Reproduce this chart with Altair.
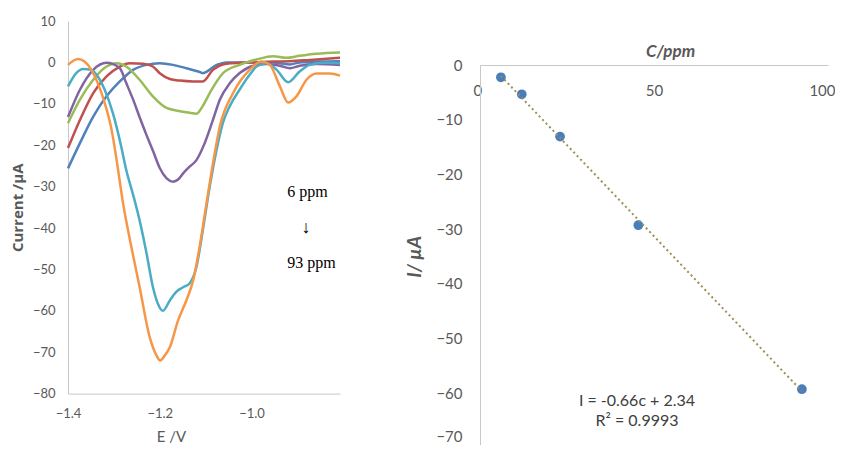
import altair as alt
import pandas as pd

# ---------------- Left panel: voltammograms (E / V vs current / µA) ----------------
E_blue = [-1.400, -1.374, -1.345, -1.316, -1.287, -1.258, -1.229, -1.200, -1.171, -1.142, -1.116,
          -1.106, -1.076, -1.055, -1.025, -0.996, -0.967, -0.938, -0.916, -0.895, -0.858, -0.807]
I_blue = [-25.6, -19.5, -13.1, -8.2, -4.6, -1.8, -0.6, -0.2, -0.6, -1.4, -2.2,
          -2.6, -0.6, 0.0, 0.0, 0.0, 0.1, -0.2, -0.5, 0.0, 0.2, 0.3]

E_red = [-1.400, -1.374, -1.345, -1.316, -1.287, -1.265, -1.236, -1.215, -1.200, -1.178, -1.156,
         -1.127, -1.106, -1.084, -1.055, -1.025, -0.989, -0.953, -0.916, -0.873, -0.807]
I_red = [-20.7, -13.9, -7.4, -3.4, -1.0, -0.2, -0.3, -1.0, -2.6, -4.0, -4.4,
         -4.6, -4.6, -1.8, -0.3, -0.1, 0.0, 0.2, 0.3, 0.6, 1.1]

E_green = [-1.400, -1.374, -1.345, -1.316, -1.294, -1.273, -1.244, -1.215, -1.185, -1.149, -1.120,
           -1.106, -1.091, -1.062, -1.026, -0.989, -0.953, -0.924, -0.895, -0.858, -0.807]
I_green = [-14.7, -9.0, -4.2, -1.0, -0.2, -1.0, -4.2, -8.2, -11.0, -11.9, -12.4,
           -10.5, -7.4, -2.6, -0.6, 0.7, 1.5, 1.1, 1.6, 2.1, 2.4]

E_purple = [-1.400, -1.374, -1.345, -1.316, -1.287, -1.273, -1.258, -1.244, -1.229, -1.215, -1.200,
            -1.185, -1.171, -1.160, -1.149, -1.135, -1.120, -1.102, -1.084, -1.069, -1.047, -1.025,
            -0.996, -0.967, -0.938, -0.916, -0.895, -0.858, -0.807]
I_purple = [-13.2, -6.6, -1.8, -0.1, -1.4, -5.0, -9.0, -13.2, -17.5, -21.3, -25.5,
            -28.0, -28.8, -28.3, -26.8, -25.2, -23.6, -19.5, -13.9, -9.0, -5.0, -2.5,
            -0.8, -0.4, -0.8, -1.4, -0.8, -0.4, -0.6]

E_cyan = [-1.400, -1.382, -1.367, -1.349, -1.335, -1.320, -1.302, -1.284, -1.273, -1.258, -1.244,
          -1.229, -1.215, -1.204, -1.193, -1.178, -1.164, -1.149, -1.135, -1.120, -1.106, -1.091,
          -1.073, -1.062, -1.047, -1.026, -1.004, -0.989, -0.967, -0.945, -0.920, -0.895, -0.873,
          -0.840, -0.807]
I_cyan = [-5.8, -2.6, -1.6, -1.8, -3.4, -6.6, -12.3, -20.3, -26.0, -32.0, -38.1,
          -46.0, -54.2, -58.3, -60.0, -57.5, -55.4, -54.3, -53.4, -49.4, -40.5, -30.0,
          -19.5, -14.5, -10.5, -6.6, -3.0, -1.0, -0.2, -1.8, -4.8, -2.2, -0.6,
          -0.1, -0.2]

E_orange = [-1.400, -1.378, -1.364, -1.349, -1.335, -1.320, -1.305, -1.294, -1.280, -1.262, -1.244,
            -1.222, -1.207, -1.199, -1.189, -1.178, -1.160, -1.142, -1.127, -1.113, -1.098, -1.084,
            -1.069, -1.040, -1.004, -0.978, -0.960, -0.938, -0.920, -0.902, -0.880, -0.858, -0.829,
            -0.807]
I_orange = [-0.6, 0.8, 0.2, -1.8, -5.0, -9.8, -16.3, -23.6, -34.0, -44.5, -54.2,
            -66.3, -70.8, -72.0, -70.8, -68.8, -62.3, -57.5, -52.6, -44.5, -34.0, -24.4,
            -15.5, -7.4, -1.8, 0.2, -0.6, -5.8, -9.7, -8.2, -4.2, -2.7, -2.7,
            -3.2]

series_names = ["s1", "s2", "s3", "s4", "s5", "s6"]
series_colors = ["#4F81BD", "#C0504D", "#9BBB59", "#8064A2", "#4BACC6", "#F79646"]
series_E = [E_blue, E_red, E_green, E_purple, E_cyan, E_orange]
series_I = [I_blue, I_red, I_green, I_purple, I_cyan, I_orange]

E_ticks = [-1.4, -1.2, -1.0]
I_ticks_left = [-80, -70, -60, -50, -40, -30, -20, -10, 0, 10]

# ---------------- Right panel: calibration ----------------
conc_ppm = [6, 12, 23, 45.5, 92.5]
peak_uA = [-2.25, -5.36, -13.1, -29.3, -59.3]
c_ticks = [0, 50, 100]
I_ticks_right = [0, -10, -20, -30, -40, -50, -60, -70]

FONT = "Lato"
GRAY = "#595959"
AXIS_LINE = "#C8C8C8"

# one shared plot area (page x 68..828, y 21..), two panels placed via scale ranges
W, H = 760, 424
L_W, L_H = 272, 372.6          # left panel plot size
R_X0, R_X1 = 412, 760          # right panel x range inside the plot area
R_Y0, R_Y70 = 44, 426.7        # right panel: y of 0 and of -70

rows = []
for name, Es, Is in zip(series_names, series_E, series_I):
    for e, i in zip(Es, Is):
        rows.append({"series": name, "E": e, "I": i})
cv = pd.DataFrame(rows)

lines = alt.Chart(cv).mark_line(strokeWidth=2.5, interpolate="monotone").encode(
    x=alt.X("E:Q",
            scale=alt.Scale(domain=[-1.4, -0.807], range=[0, L_W], nice=False, zero=False),
            axis=alt.Axis(orient="bottom", offset=-(H - L_H), values=E_ticks, format=".1f",
                          title="E /V", grid=False, ticks=False, tickSize=0, labelPadding=14,
                          labelFlush=False, domainColor=AXIS_LINE, labelColor=GRAY,
                          labelFontSize=13, labelFont=FONT, titleFont=FONT, titleFontSize=15,
                          titleColor=GRAY, titleFontWeight="normal", titleX=103, titleY=43,
                          titleBaseline="middle")),
    y=alt.Y("I:Q",
            scale=alt.Scale(domain=[-80, 10], range=[L_H, 0], nice=False),
            axis=alt.Axis(orient="left", values=I_ticks_left, title="Current /µA", grid=False,
                          ticks=False, tickSize=0, labelPadding=13,
                          domainColor=AXIS_LINE, labelColor=GRAY, labelFontSize=13,
                          labelFont=FONT, titleFont="Open Sans", titleFontSize=15,
                          titleColor=GRAY, titleFontWeight="bold", titlePadding=7)),
    color=alt.Color("series:N", scale=alt.Scale(domain=series_names, range=series_colors),
                    legend=None),
)

ann_one = pd.DataFrame({"t": ["6 ppm"]})
ann_two = pd.DataFrame({"t": ["↓"]})
ann_three = pd.DataFrame({"t": ["93 ppm"]})


def ann(df, px, py, size=16):
    return alt.Chart(df).mark_text(font="Liberation Serif", fontSize=size, color="#000000",
                                   align="center", baseline="middle").encode(
        x=alt.value(px), y=alt.value(py), text="t:N")


left = alt.layer(
    lines,
    ann(ann_one, 239.5, 171),
    ann(ann_two, 238, 207, 18),
    ann(ann_three, 243.5, 242),
)

cal = pd.DataFrame({"c": conc_ppm, "I": peak_uA})

xr = alt.X("c:Q",
           scale=alt.Scale(domain=[0, 100], range=[R_X0, R_X1], nice=False),
           axis=alt.Axis(orient="top", offset=-R_Y0, values=c_ticks, title="C/ppm",
                         grid=False, ticks=False, tickSize=0, labelPadding=-25,
                         labelBaseline="middle", labelFlush=True, labelFlushOffset=7,
                         domainColor=AXIS_LINE, labelColor=GRAY, labelFontSize=15,
                         labelFont=FONT, titleFont=FONT, titleFontSize=17, titleColor=GRAY,
                         titleFontWeight="bold", titleFontStyle="italic",
                         titleX=602, titleY=-14, titleBaseline="middle"))
yr = alt.Y("I:Q",
           scale=alt.Scale(domain=[-70, 0], range=[R_Y70, R_Y0], nice=False, zero=False),
           axis=alt.Axis(orient="left", offset=-R_X0, values=I_ticks_right, title="I/ µA",
                         grid=False, ticks=False, tickSize=0, labelPadding=18,
                         labelOffset=alt.condition("datum.value == -70", alt.value(-11), alt.value(0)),
                         domainColor=AXIS_LINE, labelColor=GRAY, labelFontSize=15,
                         labelFont=FONT, titleFont=FONT, titleFontSize=19, titleColor=GRAY,
                         titleFontWeight="bold", titleFontStyle="italic", titlePadding=11))

points = alt.Chart(cal).mark_circle(size=95, color="#4A7EBB", opacity=1).encode(x=xr, y=yr)

trend = alt.Chart(cal).transform_regression("c", "I", extent=[6, 92.5]).mark_line(
    strokeDash=[2, 3], strokeWidth=2, color="#9C8F55").encode(x=xr, y=yr)

eq1 = pd.DataFrame({"t": ["I = -0.66c + 2.34"]})
eq2 = pd.DataFrame({"t": ["R² = 0.9993"]})


def eq(df, px, py):
    return alt.Chart(df).mark_text(font=FONT, fontSize=16, color="#404040",
                                   align="center", baseline="middle").encode(
        x=alt.value(px), y=alt.value(py), text="t:N")


right = alt.layer(points, trend, eq(eq1, 569, 380), eq(eq2, 569, 400))

chart = alt.layer(left, right).resolve_scale(
    x="independent", y="independent"
).properties(
    width=W, height=H,
    autosize=alt.AutoSizeParams(type="none"),
    padding={"left": 60, "top": 13, "right": 7, "bottom": 0},
).configure_view(stroke="transparent")

chart.save("out.html", embed_options={"renderer": "svg", "actions": False})
